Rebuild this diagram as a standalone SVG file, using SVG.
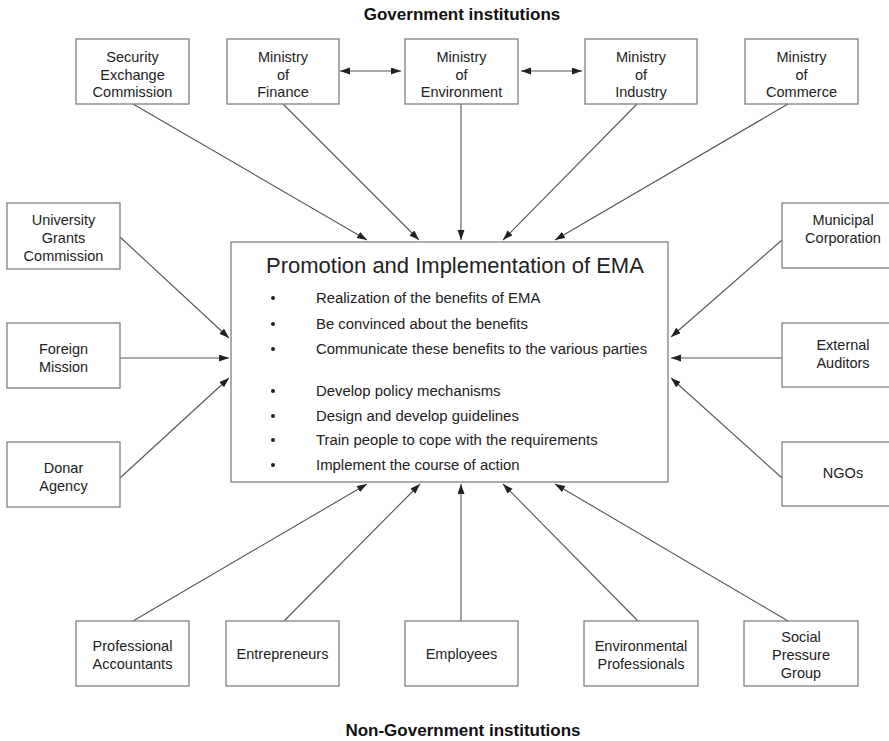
<svg xmlns="http://www.w3.org/2000/svg" width="889" height="741" viewBox="0 0 889 741">
<style>
.box{fill:#fff;stroke:#808080;stroke-width:1.3}
.t{font-family:"Liberation Sans",Arial,Helvetica,sans-serif;font-size:14.5px;fill:#222;text-anchor:middle}
.b{font-family:"Liberation Sans",Arial,Helvetica,sans-serif;font-size:14.9px;fill:#222}
.h{font-family:"Liberation Sans",Arial,Helvetica,sans-serif;font-size:17px;font-weight:bold;fill:#111;text-anchor:middle}
.ttl{font-family:"Liberation Sans",Arial,Helvetica,sans-serif;font-size:22px;fill:#222}
.c{stroke:#555;stroke-width:1.1;fill:none;marker-end:url(#ah)}
.d{marker-start:url(#ah)}
.dot{fill:#222}
</style>
<defs>
<marker id="ah" markerUnits="userSpaceOnUse" markerWidth="11" markerHeight="8" refX="10" refY="3.5" orient="auto-start-reverse">
<path d="M0,0 L10,3.5 L0,7 z" fill="#222"/>
</marker>
</defs>
<rect width="889" height="741" fill="#fff"/>
<text class="h" x="462" y="20">Government institutions</text>
<text class="h" x="463" y="736">Non-Government institutions</text>

<g id="connectors">
<line class="c" x1="133" y1="104" x2="367" y2="240"/>
<line class="c" x1="283" y1="104" x2="419" y2="240"/>
<line class="c" x1="461" y1="104" x2="461" y2="240"/>
<line class="c" x1="637" y1="104" x2="503" y2="240"/>
<line class="c" x1="788" y1="104" x2="555" y2="240"/>
<line class="c d" x1="340" y1="71" x2="401" y2="71"/>
<line class="c d" x1="521" y1="71" x2="582" y2="71"/>
<line class="c" x1="120" y1="237" x2="229" y2="338"/>
<line class="c" x1="120" y1="358" x2="229" y2="358"/>
<line class="c" x1="120" y1="478" x2="229" y2="378"/>
<line class="c" x1="782" y1="240" x2="671" y2="337"/>
<line class="c" x1="782" y1="358" x2="671" y2="358"/>
<line class="c" x1="782" y1="478" x2="671" y2="378"/>
<line class="c" x1="133" y1="621" x2="367" y2="484"/>
<line class="c" x1="284" y1="621" x2="420" y2="484"/>
<line class="c" x1="461" y1="621" x2="461" y2="484"/>
<line class="c" x1="638" y1="621" x2="503" y2="484"/>
<line class="c" x1="788" y1="621" x2="555" y2="484"/>
</g>

<g id="sec"><rect class="box" x="76" y="39" width="113" height="65"/>
<text class="t" x="132.5" y="62">Security</text><text class="t" x="132.5" y="79.5">Exchange</text><text class="t" x="132.5" y="97">Commission</text></g>
<g id="fin"><rect class="box" x="227" y="39" width="112" height="65"/>
<text class="t" x="283" y="62">Ministry</text><text class="t" x="283" y="79.5">of</text><text class="t" x="283" y="97">Finance</text></g>
<g id="env"><rect class="box" x="405" y="39" width="113" height="65"/>
<text class="t" x="461.5" y="62">Ministry</text><text class="t" x="461.5" y="79.5">of</text><text class="t" x="461.5" y="97">Environment</text></g>
<g id="ind"><rect class="box" x="585" y="39" width="112" height="65"/>
<text class="t" x="641" y="62">Ministry</text><text class="t" x="641" y="79.5">of</text><text class="t" x="641" y="97">Industry</text></g>
<g id="com"><rect class="box" x="745" y="39" width="113" height="65"/>
<text class="t" x="801.5" y="62">Ministry</text><text class="t" x="801.5" y="79.5">of</text><text class="t" x="801.5" y="97">Commerce</text></g>

<g id="ugc"><rect class="box" x="7" y="203" width="113" height="66"/>
<text class="t" x="63.5" y="225">University</text><text class="t" x="63.5" y="243">Grants</text><text class="t" x="63.5" y="261">Commission</text></g>
<g id="fm"><rect class="box" x="7" y="323" width="113" height="65"/>
<text class="t" x="63.5" y="354">Foreign</text><text class="t" x="63.5" y="372">Mission</text></g>
<g id="da"><rect class="box" x="7" y="442" width="113" height="65"/>
<text class="t" x="63.5" y="473">Donar</text><text class="t" x="63.5" y="491">Agency</text></g>

<g id="mc"><rect class="box" x="782" y="203" width="110" height="65"/>
<text class="t" x="843" y="225">Municipal</text><text class="t" x="843" y="243">Corporation</text></g>
<g id="ea"><rect class="box" x="782" y="323" width="110" height="64"/>
<text class="t" x="843" y="350">External</text><text class="t" x="843" y="368">Auditors</text></g>
<g id="ngo"><rect class="box" x="782" y="442" width="110" height="64"/>
<text class="t" x="843" y="478">NGOs</text></g>

<g id="pa"><rect class="box" x="76" y="621" width="113" height="65"/>
<text class="t" x="132.5" y="651">Professional</text><text class="t" x="132.5" y="669">Accountants</text></g>
<g id="en"><rect class="box" x="226" y="621" width="113" height="65"/>
<text class="t" x="282.5" y="659">Entrepreneurs</text></g>
<g id="em"><rect class="box" x="405" y="621" width="113" height="65"/>
<text class="t" x="461.5" y="659">Employees</text></g>
<g id="ep"><rect class="box" x="584" y="621" width="114" height="65"/>
<text class="t" x="641" y="651">Environmental</text><text class="t" x="641" y="669">Professionals</text></g>
<g id="sp"><rect class="box" x="744" y="621" width="114" height="65"/>
<text class="t" x="801" y="642">Social</text><text class="t" x="801" y="660">Pressure</text><text class="t" x="801" y="678">Group</text></g>

<g id="center"><rect class="box" x="231" y="242" width="437" height="240"/>
<text class="ttl" x="266" y="273">Promotion and Implementation of EMA</text>
<circle class="dot" cx="273" cy="298" r="2"/><text class="b" x="316" y="303">Realization of the benefits of EMA</text>
<circle class="dot" cx="273" cy="324" r="2"/><text class="b" x="316" y="329">Be convinced about the benefits</text>
<circle class="dot" cx="273" cy="349" r="2"/><text class="b" x="316" y="354">Communicate these benefits to the various parties</text>
<circle class="dot" cx="273" cy="391" r="2"/><text class="b" x="316" y="396">Develop policy mechanisms</text>
<circle class="dot" cx="273" cy="416" r="2"/><text class="b" x="316" y="421">Design and develop guidelines</text>
<circle class="dot" cx="273" cy="440" r="2"/><text class="b" x="316" y="445">Train people to cope with the requirements</text>
<circle class="dot" cx="273" cy="465" r="2"/><text class="b" x="316" y="470">Implement the course of action</text>
</g>
</svg>
